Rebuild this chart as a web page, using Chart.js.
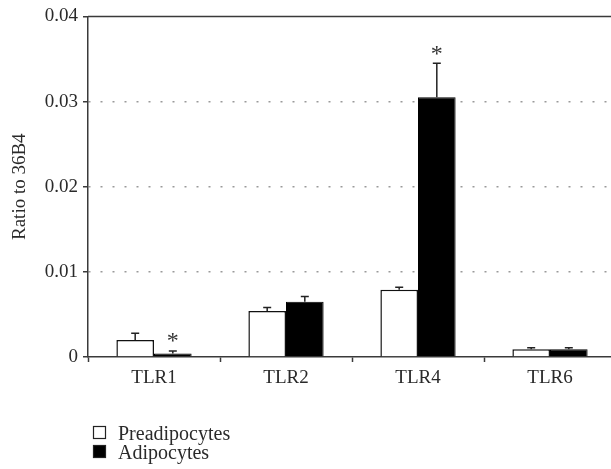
<!DOCTYPE html>
<html>
<head>
<meta charset="utf-8">
<script src="https://cdn.jsdelivr.net/npm/chart.js@4.4.0/dist/chart.umd.min.js"></script>
<style>
  html, body { margin: 0; padding: 0; background: #fff; overflow: hidden; }
  #wrap { width: 620px; height: 469px; position: relative; }
</style>
</head>
<body>
<div id="wrap"><canvas id="c"></canvas></div>
<script>
// TLR expression relative to 36B4
const categories = ['TLR1', 'TLR2', 'TLR4', 'TLR6'];
const preadipocytes = [0.0020, 0.0054, 0.0079, 0.0009];
const preadipocytesErr = [0.0008, 0.0004, 0.0003, 0.0002];
const adipocytes = [0.0004, 0.0065, 0.0305, 0.0009];
const adipocytesErr = [0.0003, 0.0006, 0.0040, 0.0002];
const adipocytesSignificant = [true, false, true, false];
const yTicks = [0, 0.01, 0.02, 0.03, 0.04];

const FONT = "'Liberation Serif', 'Times New Roman', serif";
const TEXT = '#2a2a2a';
const AXIS = '#3a3a3a';

// Upper error whiskers, significance stars and the frame's top edge
const extras = {
  id: 'extras',
  afterDatasetsDraw(chart) {
    const ctx = chart.ctx;
    const y = chart.scales.y;
    const area = chart.chartArea;
    ctx.save();
    ctx.strokeStyle = AXIS;
    ctx.lineWidth = 1.5;
    ctx.beginPath();
    ctx.moveTo(area.left, area.top);
    ctx.lineTo(area.right, area.top);
    ctx.stroke();

    chart.data.datasets.forEach((ds, di) => {
      const meta = chart.getDatasetMeta(di);
      meta.data.forEach((bar, i) => {
        const top = ds.data[i] + ds.errors[i];
        const yTop = y.getPixelForValue(top);
        const yBar = y.getPixelForValue(ds.data[i]);
        ctx.strokeStyle = '#222';
        ctx.lineWidth = 1.5;
        ctx.beginPath();
        ctx.moveTo(bar.x, yBar);
        ctx.lineTo(bar.x, yTop);
        ctx.moveTo(bar.x - 4, yTop);
        ctx.lineTo(bar.x + 4, yTop);
        ctx.stroke();
        if (ds.significant && ds.significant[i]) {
          ctx.fillStyle = '#333';
          ctx.font = '24px ' + FONT;
          ctx.textAlign = 'center';
          ctx.textBaseline = 'middle';
          ctx.fillText('*', bar.x, yTop - 9);
        }
      });
    });
    ctx.restore();
  },
  afterDraw(chart) {
    // stacked legend below the axis
    const ctx = chart.ctx;
    const area = chart.chartArea;
    ctx.save();
    const x0 = area.left + 5;
    const y0 = area.bottom + 69;
    chart.data.datasets.forEach((ds, i) => {
      const yy = y0 + i * 19;
      ctx.fillStyle = ds.backgroundColor;
      ctx.fillRect(x0, yy, 12, 12);
      ctx.strokeStyle = '#222';
      ctx.lineWidth = 1.2;
      ctx.strokeRect(x0 + 0.5, yy + 0.5, 12, 12);
      ctx.fillStyle = TEXT;
      ctx.font = '20px ' + FONT;
      ctx.textAlign = 'left';
      ctx.textBaseline = 'middle';
      ctx.fillText(ds.label, x0 + 25, yy + 8.5);
    });
    ctx.restore();
  }
};

new Chart(document.getElementById('c'), {
  type: 'bar',
  data: {
    labels: categories,
    datasets: [
      {
        label: 'Preadipocytes',
        data: preadipocytes,
        errors: preadipocytesErr,
        backgroundColor: '#ffffff',
        borderColor: '#111',
        borderWidth: 1.5,
        categoryPercentage: 0.57,
        barPercentage: 1.0
      },
      {
        label: 'Adipocytes',
        data: adipocytes,
        errors: adipocytesErr,
        significant: adipocytesSignificant,
        backgroundColor: '#000000',
        borderColor: '#000',
        borderWidth: 1,
        categoryPercentage: 0.57,
        barPercentage: 1.0
      }
    ]
  },
  options: {
    responsive: true,
    maintainAspectRatio: false,
    animation: false,
    layout: { padding: { top: 13, right: 4, left: 0, bottom: 0 } },
    plugins: {
      legend: { display: false },
      tooltip: { enabled: false }
    },
    scales: {
      x: {
        afterFit(scale) { scale.height = 112; },
        border: { color: AXIS, width: 1.5 },
        grid: {
          drawOnChartArea: false,
          drawTicks: true,
          tickLength: 5,
          tickColor: AXIS,
          tickWidth: 1.5
        },
        ticks: {
          color: TEXT,
          font: { family: FONT, size: 19 },
          padding: 5
        }
      },
      y: {
        min: 0,
        max: 0.04,
        afterFit(scale) { scale.width = 88; },
        afterBuildTicks(scale) { scale.ticks = yTicks.map(v => ({ value: v })); },
        border: { color: AXIS, width: 1.5, dash: [2, 10] },
        grid: {
          color: (c) => (c.tick && c.tick.value > 0 && c.tick.value < 0.04) ? '#9a9a9a' : 'rgba(0,0,0,0)',
          lineWidth: 1.5,
          tickColor: AXIS,
          tickWidth: 1.5,
          tickBorderDash: [],
          tickLength: 5
        },
        ticks: {
          color: TEXT,
          font: { family: FONT, size: 19 },
          padding: 5,
          callback: (v) => v === 0 ? '0' : v.toFixed(2)
        },
        title: {
          display: true,
          text: 'Ratio to 36B4',
          color: TEXT,
          font: { family: FONT, size: 19 },
          padding: { top: 9, bottom: 0 }
        }
      }
    }
  },
  plugins: [extras]
});
</script>
</body>
</html>
